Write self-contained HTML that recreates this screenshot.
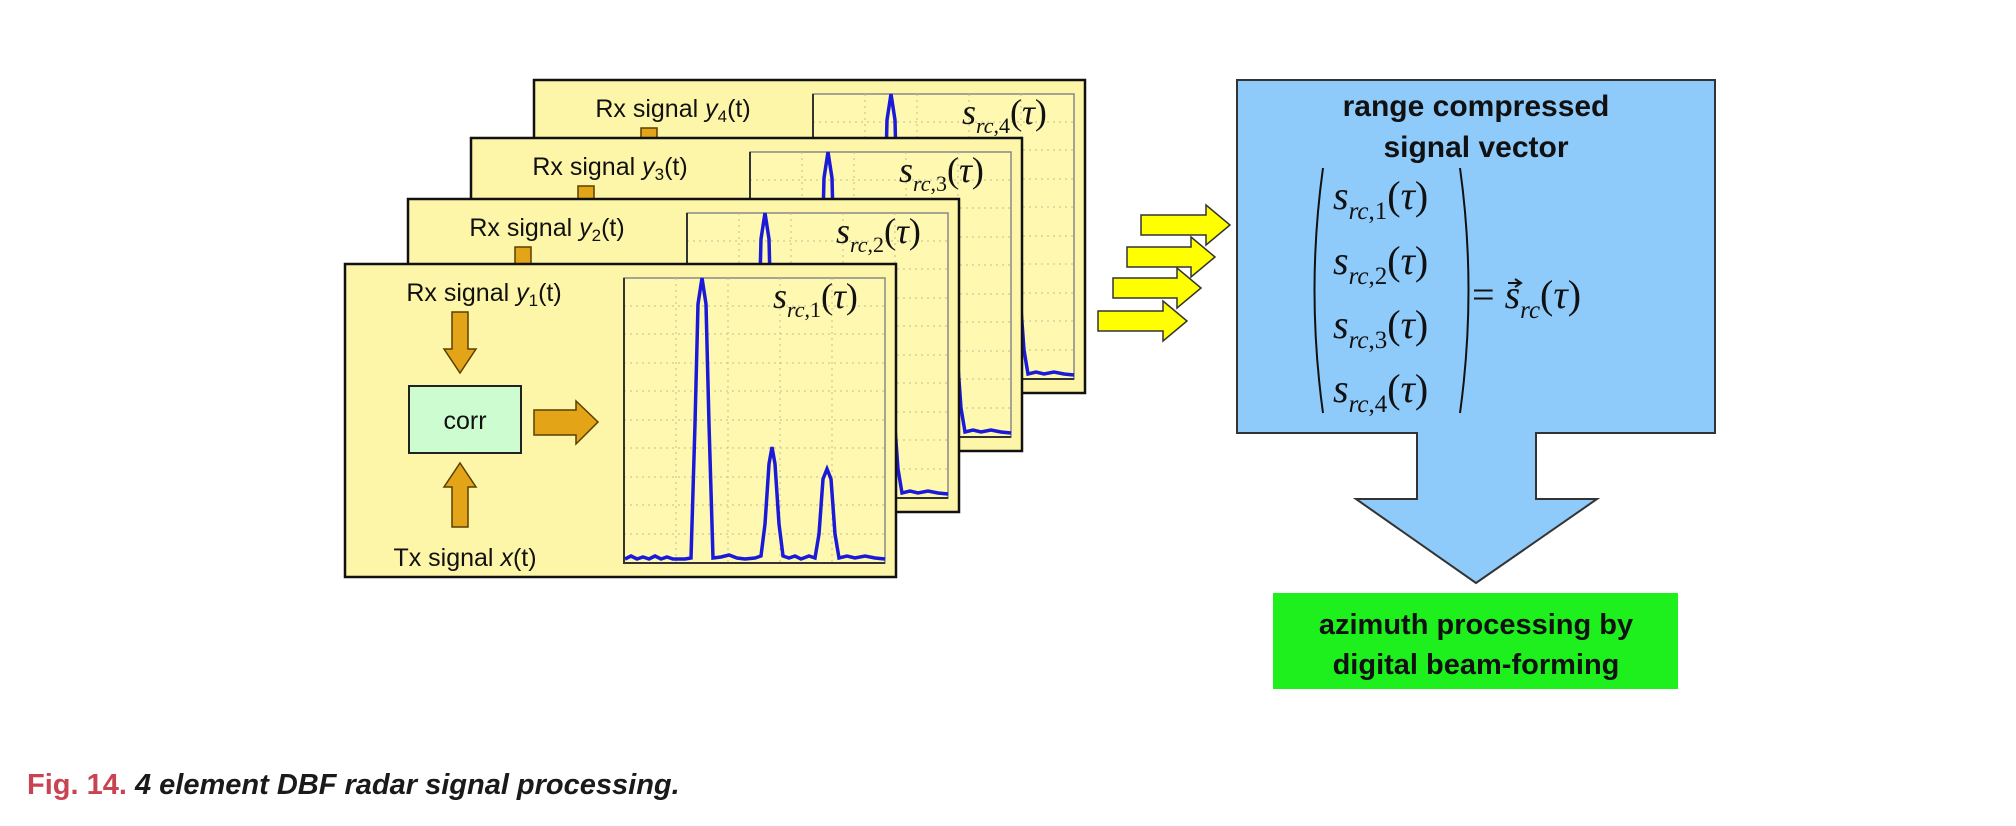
<!DOCTYPE html>
<html><head><meta charset="utf-8"><style>
html,body{margin:0;padding:0;background:#fff;}
svg{display:block}
.lbl{font-family:"Liberation Sans",sans-serif;font-size:25px;fill:#111}
.m{font-family:"Liberation Serif",serif;fill:#111}
</style></head><body>
<svg width="2016" height="826" viewBox="0 0 2016 826" xmlns="http://www.w3.org/2000/svg">
<defs>
<g id="grid">
  <rect x="279" y="14" width="261" height="285" fill="#fff8b0" stroke="#888" stroke-width="1.5"/>
  <g stroke="#c4bc96" stroke-width="1" stroke-dasharray="2,4">
    <line x1="331" y1="14" x2="331" y2="299"/><line x1="383" y1="14" x2="383" y2="299"/>
    <line x1="435" y1="14" x2="435" y2="299"/><line x1="487" y1="14" x2="487" y2="299"/>
    <line x1="279" y1="42" x2="540" y2="42"/><line x1="279" y1="70" x2="540" y2="70"/>
    <line x1="279" y1="99" x2="540" y2="99"/><line x1="279" y1="127" x2="540" y2="127"/>
    <line x1="279" y1="156" x2="540" y2="156"/><line x1="279" y1="184" x2="540" y2="184"/>
    <line x1="279" y1="213" x2="540" y2="213"/><line x1="279" y1="241" x2="540" y2="241"/>
    <line x1="279" y1="270" x2="540" y2="270"/>
  </g>
  <path d="M279,14 V299 H540" fill="none" stroke="#333" stroke-width="2"/>
  <path d="M280,295 L286,292 L292,295 L298,293 L304,295 L310,292 L316,295 L322,293 L328,295 L340,295 L346,294 L350,160 L353,40 L357,14 L361,40 L364,160 L368,294 L376,293 L384,291 L392,294 L400,295 L410,294 L416,292 L420,260 L424,200 L427,183 L430,200 L434,260 L438,292 L444,294 L450,292 L456,295 L464,292 L470,294 L474,270 L478,215 L482,205 L486,215 L490,270 L494,294 L502,292 L510,294 L520,292 L530,294 L540,295" fill="none" stroke="#1a1ad8" stroke-width="3.5"/>
</g>
<g id="panel">
  <rect x="0" y="0" width="551" height="313" fill="#fdf6a8" stroke="#111" stroke-width="2.5"/>
  <use href="#grid"/>
  <polygon points="107,48 123,48 123,85 131,85 115,109 99,85 107,85" fill="#e3a417" stroke="#5a4000" stroke-width="1.5"/>
  <polygon points="107,263 123,263 123,223 131,223 115,199 99,223 107,223" fill="#e3a417" stroke="#5a4000" stroke-width="1.5"/>
  <polygon points="189,146 231,146 231,137 253,158 231,180 231,171 189,171" fill="#e3a417" stroke="#5a4000" stroke-width="1.5"/>
  <rect x="64" y="122" width="112" height="67" fill="#ccfccf" stroke="#222" stroke-width="2"/>
  <text x="120" y="165" class="lbl" text-anchor="middle" font-size="27">corr</text>
  <text x="120" y="302" class="lbl" text-anchor="middle">Tx signal <tspan font-style="italic">x</tspan>(t)</text>
</g>
</defs>

<g transform="translate(534,80)"><use href="#panel"/>
  <text x="139" y="37" class="lbl" text-anchor="middle">Rx signal <tspan font-style="italic">y</tspan><tspan font-size="17" dy="5">4</tspan><tspan dy="-5">(t)</tspan></text>
  <text x="428" y="44" class="m"><tspan font-style="italic" font-size="36">s</tspan><tspan font-style="italic" font-size="22" dy="9">rc</tspan><tspan font-size="22">,4</tspan><tspan font-size="36" dy="-9">(</tspan><tspan font-style="italic" font-size="36">τ</tspan><tspan font-size="36">)</tspan></text>
</g>
<g transform="translate(471,138)"><use href="#panel"/>
  <text x="139" y="37" class="lbl" text-anchor="middle">Rx signal <tspan font-style="italic">y</tspan><tspan font-size="17" dy="5">3</tspan><tspan dy="-5">(t)</tspan></text>
  <text x="428" y="44" class="m"><tspan font-style="italic" font-size="36">s</tspan><tspan font-style="italic" font-size="22" dy="9">rc</tspan><tspan font-size="22">,3</tspan><tspan font-size="36" dy="-9">(</tspan><tspan font-style="italic" font-size="36">τ</tspan><tspan font-size="36">)</tspan></text>
</g>
<g transform="translate(408,199)"><use href="#panel"/>
  <text x="139" y="37" class="lbl" text-anchor="middle">Rx signal <tspan font-style="italic">y</tspan><tspan font-size="17" dy="5">2</tspan><tspan dy="-5">(t)</tspan></text>
  <text x="428" y="44" class="m"><tspan font-style="italic" font-size="36">s</tspan><tspan font-style="italic" font-size="22" dy="9">rc</tspan><tspan font-size="22">,2</tspan><tspan font-size="36" dy="-9">(</tspan><tspan font-style="italic" font-size="36">τ</tspan><tspan font-size="36">)</tspan></text>
</g>
<g transform="translate(345,264)"><use href="#panel"/>
  <text x="139" y="37" class="lbl" text-anchor="middle">Rx signal <tspan font-style="italic">y</tspan><tspan font-size="17" dy="5">1</tspan><tspan dy="-5">(t)</tspan></text>
  <text x="428" y="44" class="m"><tspan font-style="italic" font-size="36">s</tspan><tspan font-style="italic" font-size="22" dy="9">rc</tspan><tspan font-size="22">,1</tspan><tspan font-size="36" dy="-9">(</tspan><tspan font-style="italic" font-size="36">τ</tspan><tspan font-size="36">)</tspan></text>
</g>

<g fill="#ffff00" stroke="#333" stroke-width="1.5">
  <polygon points="1141,215 1206,215 1206,205 1230,225 1206,245 1206,235 1141,235"/>
  <polygon points="1127,247 1191,247 1191,237 1215,257 1191,277 1191,267 1127,267"/>
  <polygon points="1113,278 1177,278 1177,268 1201,288 1177,308 1177,298 1113,298"/>
  <polygon points="1098,311 1163,311 1163,301 1187,321 1163,341 1163,331 1098,331"/>
</g>

<path d="M1237,80 H1715 V433 H1536 V499 H1597 L1476,583 L1356,499 H1417 V433 H1237 Z" fill="#8ecbfb" stroke="#333" stroke-width="2"/>
<text x="1476" y="116" font-family="Liberation Sans,sans-serif" font-weight="bold" font-size="30" text-anchor="middle" fill="#111">range compressed</text>
<text x="1476" y="157" font-family="Liberation Sans,sans-serif" font-weight="bold" font-size="30" text-anchor="middle" fill="#111">signal vector</text>
<path d="M1323,168 Q1306,290 1323,413" fill="none" stroke="#111" stroke-width="2"/>
<path d="M1460,168 Q1477,290 1460,413" fill="none" stroke="#111" stroke-width="2"/>
<g class="m">
  <text x="1333" y="209"><tspan font-style="italic" font-size="40">s</tspan><tspan font-style="italic" font-size="25" dy="10">rc</tspan><tspan font-size="25">,1</tspan><tspan font-size="40" dy="-10">(</tspan><tspan font-style="italic" font-size="40">τ</tspan><tspan font-size="40">)</tspan></text>
  <text x="1333" y="274"><tspan font-style="italic" font-size="40">s</tspan><tspan font-style="italic" font-size="25" dy="10">rc</tspan><tspan font-size="25">,2</tspan><tspan font-size="40" dy="-10">(</tspan><tspan font-style="italic" font-size="40">τ</tspan><tspan font-size="40">)</tspan></text>
  <text x="1333" y="338"><tspan font-style="italic" font-size="40">s</tspan><tspan font-style="italic" font-size="25" dy="10">rc</tspan><tspan font-size="25">,3</tspan><tspan font-size="40" dy="-10">(</tspan><tspan font-style="italic" font-size="40">τ</tspan><tspan font-size="40">)</tspan></text>
  <text x="1333" y="402"><tspan font-style="italic" font-size="40">s</tspan><tspan font-style="italic" font-size="25" dy="10">rc</tspan><tspan font-size="25">,4</tspan><tspan font-size="40" dy="-10">(</tspan><tspan font-style="italic" font-size="40">τ</tspan><tspan font-size="40">)</tspan></text>
  <text x="1472" y="308"><tspan font-size="40">= </tspan><tspan font-style="italic" font-size="40">s</tspan><tspan font-style="italic" font-size="25" dy="10">rc</tspan><tspan font-size="40" dy="-10">(</tspan><tspan font-style="italic" font-size="40">τ</tspan><tspan font-size="40">)</tspan></text>
</g>
<path d="M1508,283 H1520 M1515,279 L1521,283 L1515,287" stroke="#111" stroke-width="2" fill="none"/>

<rect x="1273" y="593" width="405" height="96" fill="#1ef01e"/>
<text x="1476" y="634" font-family="Liberation Sans,sans-serif" font-weight="bold" font-size="29" text-anchor="middle" fill="#111">azimuth processing by</text>
<text x="1476" y="674" font-family="Liberation Sans,sans-serif" font-weight="bold" font-size="29" text-anchor="middle" fill="#111">digital beam-forming</text>

<text x="27" y="794" font-family="Liberation Sans Narrow,Liberation Sans,sans-serif" font-weight="bold" font-size="29"><tspan fill="#c84452">Fig. 14.</tspan><tspan fill="#1a1a1a" font-style="italic"> 4 element DBF radar signal processing.</tspan></text>
</svg>
</body></html>
